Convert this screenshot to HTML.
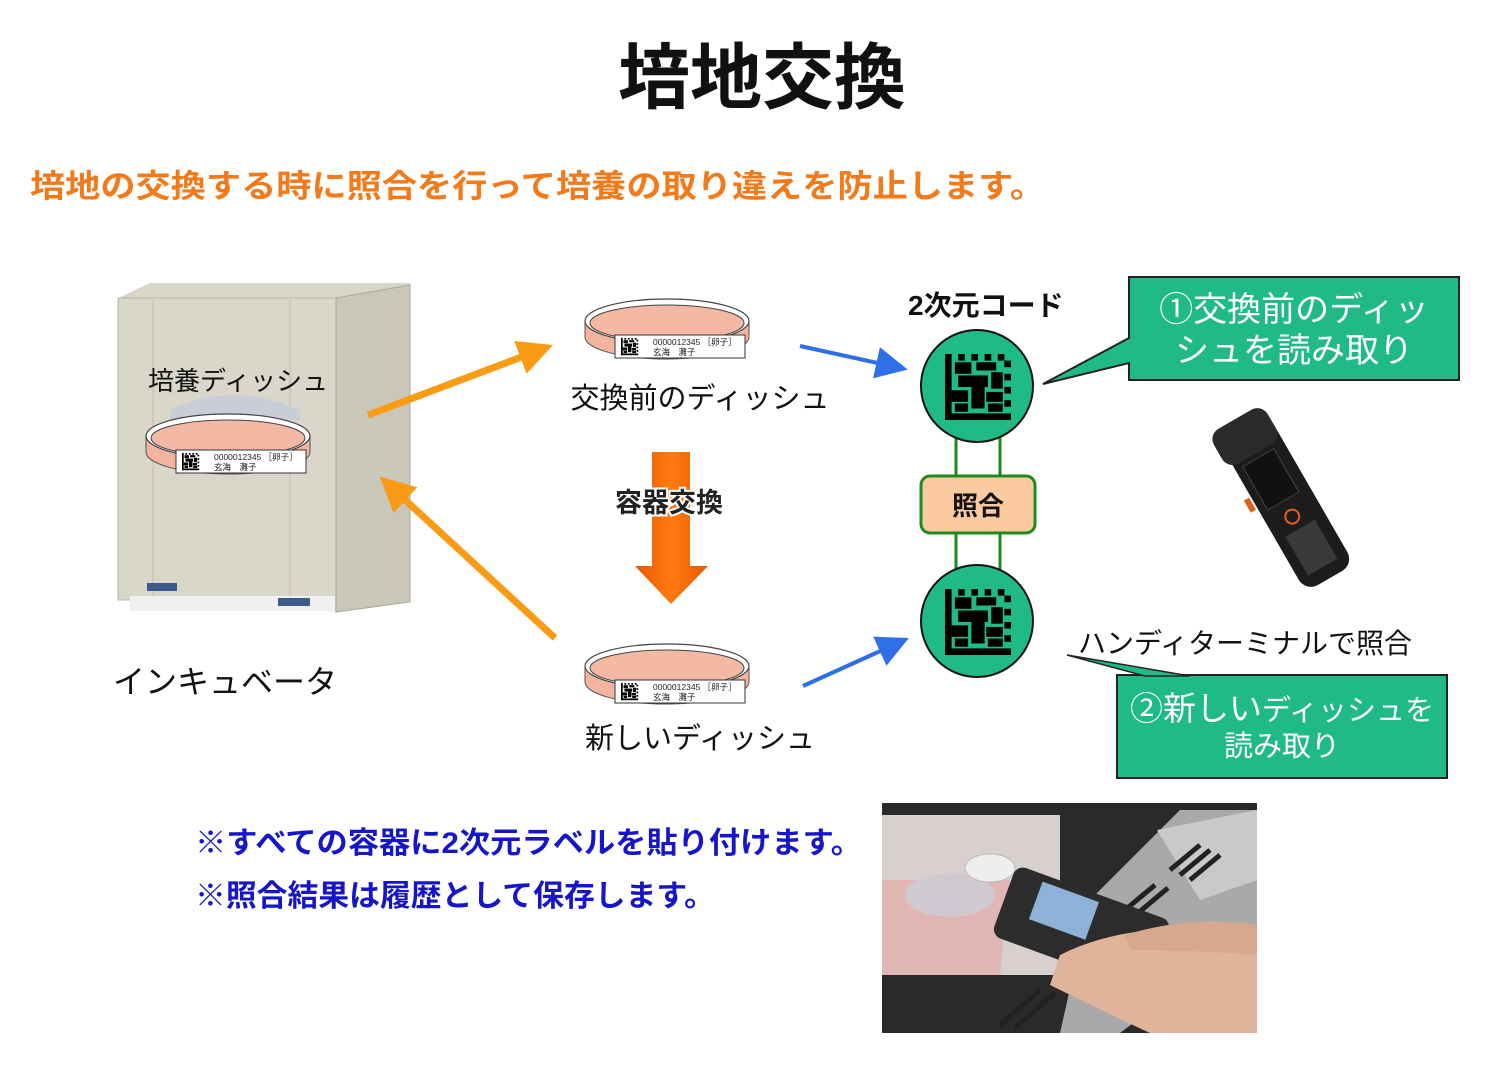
<!DOCTYPE html>
<html><head><meta charset="utf-8"><style>
html,body{margin:0;padding:0;background:#fff;}
svg{display:block}
text{font-family:"Liberation Sans","Noto Sans CJK JP",sans-serif;}
</style></head><body>
<svg width="1506" height="1065" viewBox="0 0 1506 1065" xmlns="http://www.w3.org/2000/svg">
<defs>
<g id="qr">
<rect x="0" y="0" width="4" height="40" fill="#000"/>
<rect x="0" y="36" width="40" height="4" fill="#000"/>
<rect x="8" y="0" width="4" height="4"/><rect x="16" y="0" width="4" height="4"/><rect x="24" y="0" width="4" height="4"/><rect x="32" y="0" width="4" height="4"/>
<rect x="36" y="4" width="4" height="4"/><rect x="36" y="12" width="4" height="4"/><rect x="36" y="20" width="4" height="4"/><rect x="36" y="28" width="4" height="4"/>
<rect x="6" y="5" width="10" height="7"/><rect x="19" y="5" width="12" height="5"/><rect x="8" y="13" width="18" height="7"/><rect x="28" y="11" width="7" height="10"/>
<rect x="4" y="22" width="10" height="7"/><rect x="16" y="20" width="8" height="13"/><rect x="25" y="23" width="10" height="6"/><rect x="6" y="30" width="8" height="5"/><rect x="26" y="30" width="9" height="5"/>
</g>
<marker id="bh" markerWidth="8" markerHeight="8" refX="5" refY="4" orient="auto" markerUnits="strokeWidth"><path d="M0,0 L8,4 L0,8 z" fill="#2f6fe8"/></marker>
<marker id="oh" markerWidth="5" markerHeight="5" refX="3" refY="2.5" orient="auto" markerUnits="strokeWidth"><path d="M0,0 L5,2.5 L0,5 z" fill="#f99b14"/></marker>
<linearGradient id="dg" x1="0" x2="1"><stop offset="0" stop-color="#e85a00"/><stop offset="0.5" stop-color="#ff7a10"/><stop offset="1" stop-color="#e85a00"/></linearGradient>
<g id="dish">
<ellipse cx="0" cy="12" rx="82" ry="22" fill="#f2b49e" stroke="#555" stroke-width="1"/>
<rect x="-82" y="-4" width="164" height="16" fill="#f2b49e"/>
<line x1="-82" y1="-4" x2="-82" y2="12" stroke="#555"/><line x1="82" y1="-4" x2="82" y2="12" stroke="#555"/>
<ellipse cx="0" cy="-4" rx="82" ry="22" fill="#fff" stroke="#444" stroke-width="1.2"/>
<ellipse cx="0" cy="-2" rx="77" ry="18" fill="#f4b9a4" stroke="#444" stroke-width="1"/>
<rect x="-52" y="10" width="130" height="23" fill="#fff" stroke="#333"/>
<g transform="translate(-46,13) scale(0.43)"><use href="#qr"/></g>
<text x="-14" y="20" font-size="8.5" fill="#222">0000012345  ［卵子］</text>
<text x="-14" y="30" font-size="8.5" fill="#222">玄海　灘子</text>
</g>
</defs>

<text x="762" y="103" font-size="72" font-weight="bold" text-anchor="middle" fill="#111">培地交換</text>
<text x="30" y="197" font-size="32" font-weight="bold" fill="#f27a1a" textLength="1015" lengthAdjust="spacingAndGlyphs">培地の交換する時に照合を行って培養の取り違えを防止します。</text>

<!-- incubator -->
<path d="M118,298 L150,283 L410,283 L410,600 L340,612 L118,596 Z" fill="#d8d6c8"/>
<rect x="118" y="298" width="218" height="302" fill="#d9d7c9" stroke="#b9b7a9"/>
<path d="M336,298 L410,285 L410,602 L336,612 Z" fill="#c9c7b8" stroke="#aaa89a"/>
<line x1="153" y1="300" x2="153" y2="598" stroke="#bdbbad"/>
<line x1="290" y1="300" x2="290" y2="598" stroke="#bdbbad"/>
<path d="M170,410 Q230,380 300,410 L300,420 L170,420 Z" fill="#c8cdd8"/>
<rect x="130" y="596" width="205" height="15" fill="#f0f0f0"/>
<rect x="147" y="583" width="30" height="8" fill="#3c5a8c"/><rect x="278" y="598" width="32" height="8" fill="#3c5a8c"/>
<text x="148" y="390" font-size="26" fill="#111">培養ディッシュ</text>
<use href="#dish" transform="translate(228,440)"/>
<text x="113" y="693" font-size="32" fill="#111">インキュベータ</text>

<!-- orange arrows -->
<line x1="368" y1="415" x2="540" y2="350" stroke="#f99b14" stroke-width="7" marker-end="url(#oh)"/>
<line x1="555" y1="638" x2="390" y2="486" stroke="#f99b14" stroke-width="7" marker-end="url(#oh)"/>

<!-- dishes -->
<use href="#dish" transform="translate(667,325)"/>
<text x="700" y="408" font-size="29" text-anchor="middle" fill="#111">交換前のディッシュ</text>
<use href="#dish" transform="translate(667,670)"/>
<text x="700" y="748" font-size="29" text-anchor="middle" fill="#111">新しいディッシュ</text>

<!-- big down arrow -->
<path d="M652,452 L690,452 L690,566 L708,566 L671,604 L635,566 L652,566 Z" fill="url(#dg)"/>
<text x="669" y="512" font-size="27" font-weight="bold" text-anchor="middle" fill="#222" stroke="#fff" stroke-width="4" paint-order="stroke">容器交換</text>

<!-- blue arrows -->
<line x1="800" y1="346" x2="896" y2="367" stroke="#2f6fe8" stroke-width="4" marker-end="url(#bh)"/>
<line x1="803" y1="686" x2="898" y2="643" stroke="#2f6fe8" stroke-width="4" marker-end="url(#bh)"/>

<!-- code section -->
<text x="908" y="315" font-size="28" font-weight="bold" fill="#111">2次元コード</text>
<line x1="956" y1="430" x2="956" y2="580" stroke="#1f8a1f" stroke-width="3"/>
<line x1="1000" y1="430" x2="1000" y2="580" stroke="#1f8a1f" stroke-width="3"/>
<circle cx="977" cy="386" r="56" fill="#1fba86" stroke="#111" stroke-width="2"/>
<g transform="translate(945,354) scale(1.65)"><use href="#qr"/></g>
<circle cx="977" cy="621" r="56" fill="#1fba86" stroke="#111" stroke-width="2"/>
<g transform="translate(945,589) scale(1.65)"><use href="#qr"/></g>
<rect x="921" y="476" width="114" height="57" rx="9" fill="#fbcb9f" stroke="#1f8a1f" stroke-width="3"/>
<text x="978" y="515" font-size="26" font-weight="bold" text-anchor="middle" fill="#111">照合</text>

<!-- callout 1 -->
<path d="M1129,277 L1459,277 L1459,380 L1129,380 L1129,363 L1043,384 L1129,338 Z" fill="#1fba86" stroke="#222" stroke-width="2"/>
<text x="1294" y="321" font-size="34" text-anchor="middle" fill="#fff">①交換前のディッ</text>
<text x="1294" y="362" font-size="34" text-anchor="middle" fill="#fff">シュを読み取り</text>

<!-- handheld -->
<g transform="translate(1285,500) rotate(-30)">
<rect x="-28" y="-85" width="56" height="175" rx="14" fill="#1c1c1c"/>
<rect x="-34" y="-95" width="62" height="40" rx="12" fill="#2a2a2a"/>
<rect x="-20" y="-50" width="36" height="50" fill="#111" stroke="#444"/>
<circle cx="-2" cy="18" r="7" fill="none" stroke="#e0601a" stroke-width="2"/>
<rect x="-18" y="32" width="34" height="45" fill="#3a3a3a"/>
<rect x="-36" y="-20" width="6" height="14" fill="#e0601a"/>
</g>

<text x="1078" y="653" font-size="28" fill="#111">ハンディターミナルで照合</text>
<!-- callout 2 -->
<path d="M1117,675 L1447,675 L1447,778 L1117,778 Z" fill="#1fba86" stroke="#222" stroke-width="2"/>
<path d="M1067,655 L1190,676 L1145,676 Z" fill="#1fba86" stroke="#222" stroke-width="1.5"/>
<text x="1282" y="720" font-size="33" text-anchor="middle" fill="#fff">②新しい<tspan font-size="29">ディッシュを</tspan></text>
<text x="1282" y="756" font-size="29" text-anchor="middle" fill="#fff">読み取り</text>

<!-- notes -->
<text x="195" y="853" font-size="30" font-weight="bold" fill="#1616c8" textLength="667" lengthAdjust="spacingAndGlyphs">※すべての容器に2次元ラベルを貼り付けます。</text>
<text x="195" y="906" font-size="30" font-weight="bold" fill="#1616c8" textLength="520" lengthAdjust="spacingAndGlyphs">※照合結果は履歴として保存します。</text>

<!-- photo -->
<rect x="882" y="803" width="375" height="230" fill="#2a2a2a"/>
<path d="M882,815 L1060,815 L1060,975 L882,975 Z" fill="#d8cfcf"/>
<path d="M882,880 L1010,880 L1000,975 L882,975 Z" fill="#e8a4a0" opacity="0.6"/>
<ellipse cx="950" cy="895" rx="45" ry="22" fill="#cfcad0"/>
<ellipse cx="990" cy="868" rx="25" ry="14" fill="#eee" stroke="#bbb"/>
<path d="M1090,900 L1180,810 L1257,810 L1257,930 L1120,1033 L1060,1033 Z" fill="#a9a9ab"/>
<path d="M1157,830 L1257,810 L1257,880 L1200,900 Z" fill="#c9c9cb"/>
<g stroke="#222" stroke-width="5">
<line x1="1170" y1="870" x2="1200" y2="845"/><line x1="1180" y1="875" x2="1210" y2="850"/><line x1="1190" y1="880" x2="1220" y2="855"/>
<line x1="1125" y1="910" x2="1155" y2="885"/><line x1="1138" y1="913" x2="1168" y2="888"/>
<line x1="1000" y1="1025" x2="1040" y2="990"/><line x1="1015" y1="1028" x2="1055" y2="993"/>
</g>
<g transform="translate(1080,925) rotate(20)">
<rect x="-80" y="-35" width="165" height="75" rx="10" fill="#2c2c2c"/>
<rect x="-50" y="-28" width="60" height="40" fill="#8fb3d8"/>
</g>
<path d="M1060,955 Q1120,925 1200,930 L1257,945 L1257,1033 L1150,1033 Q1100,1010 1050,985 Z" fill="#e0b49a"/>
<path d="M1125,935 Q1190,915 1257,925 L1257,955 Q1190,950 1130,950 Z" fill="#d8a88e"/>
</svg>
</body></html>
